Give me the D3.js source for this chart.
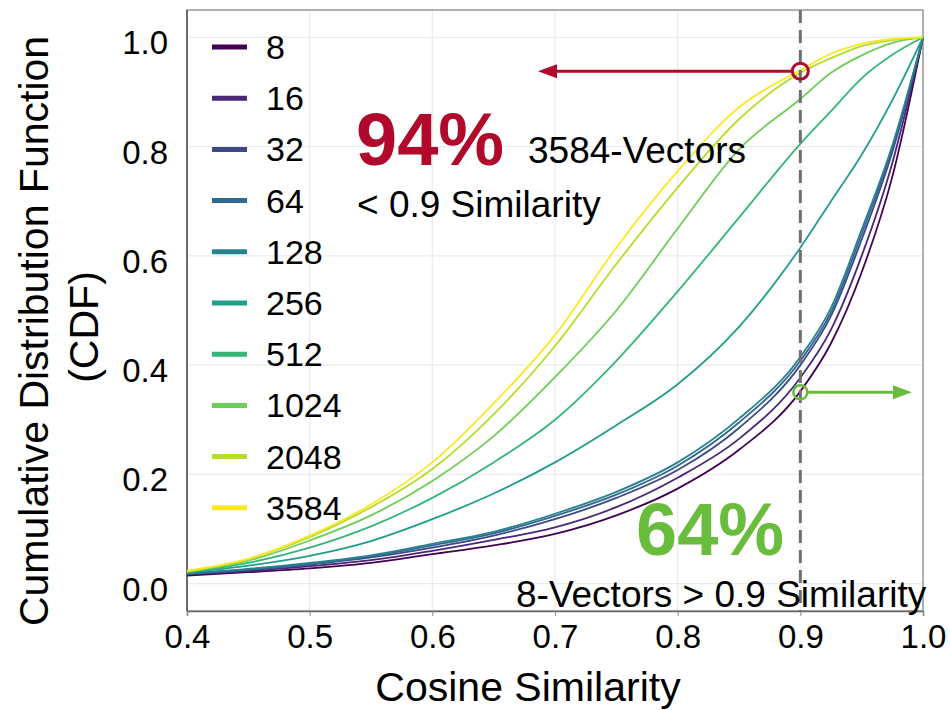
<!DOCTYPE html>
<meta charset="utf-8">
<script src="https://d3js.org/d3.v7.min.js"></script>
<style>
  body { margin: 0; background: #fff; }
  text { font-family: "Liberation Sans", Arial, Helvetica, sans-serif; }
</style>
<div id="my_dataviz"></div>
<script>

// cosine similarity sample points (x)
var simX = [0.4, 0.45, 0.5, 0.55, 0.6, 0.65, 0.7, 0.75, 0.8, 0.85, 0.9, 0.925, 0.95, 0.975, 1.0];

// CDF, one array per vector count
var cdf8    = [0.015, 0.021, 0.028, 0.038, 0.054, 0.070, 0.091, 0.125, 0.174, 0.245, 0.352, 0.440, 0.570, 0.745, 1.0];
var cdf16   = [0.017, 0.023, 0.032, 0.043, 0.060, 0.080, 0.103, 0.140, 0.194, 0.265, 0.377, 0.465, 0.600, 0.770, 1.0];
var cdf32   = [0.018, 0.025, 0.035, 0.048, 0.066, 0.088, 0.118, 0.157, 0.208, 0.285, 0.400, 0.490, 0.630, 0.790, 1.0];
var cdf64   = [0.018, 0.026, 0.036, 0.050, 0.070, 0.092, 0.124, 0.163, 0.216, 0.295, 0.408, 0.497, 0.640, 0.797, 1.0];
var cdf128  = [0.019, 0.027, 0.038, 0.052, 0.073, 0.095, 0.128, 0.168, 0.222, 0.302, 0.415, 0.505, 0.648, 0.802, 1.0];
var cdf256  = [0.020, 0.033, 0.051, 0.078, 0.118, 0.165, 0.222, 0.290, 0.365, 0.470, 0.615, 0.700, 0.785, 0.885, 1.0];
var cdf512  = [0.021, 0.038, 0.066, 0.105, 0.157, 0.222, 0.300, 0.408, 0.535, 0.670, 0.805, 0.865, 0.925, 0.968, 1.0];
var cdf1024 = [0.022, 0.042, 0.079, 0.125, 0.188, 0.270, 0.378, 0.500, 0.650, 0.795, 0.887, 0.935, 0.967, 0.990, 1.0];
var cdf2048 = [0.022, 0.045, 0.085, 0.140, 0.210, 0.310, 0.435, 0.585, 0.725, 0.850, 0.935, 0.962, 0.984, 0.995, 1.0];
var cdf3584 = [0.024, 0.046, 0.088, 0.145, 0.222, 0.330, 0.455, 0.615, 0.755, 0.872, 0.940, 0.970, 0.988, 0.997, 1.0];

var vectorCounts = ["8", "16", "32", "64", "128", "256", "512", "1024", "2048", "3584"];
var allCdfs = [cdf8, cdf16, cdf32, cdf64, cdf128, cdf256, cdf512, cdf1024, cdf2048, cdf3584];

var xTicks = [0.4, 0.5, 0.6, 0.7, 0.8, 0.9, 1.0];
var yTicks = [0.0, 0.2, 0.4, 0.6, 0.8, 1.0];

// annotation points (x, cdf)
var markHigh = [0.9, 0.938];
var markLow = [0.9, 0.352];

var red = "#b0092b", green = "#6abd3c";

var svg = d3.select("#my_dataviz")
  .append("svg")
    .attr("width", 950)
    .attr("height", 710);

var x = d3.scaleLinear().domain([0.4, 1.0]).range([187, 923]);
var y = d3.scaleLinear().domain([-0.05, 1.05]).range([611, 10]);

// grid
svg.append("g").selectAll("line")
  .data(xTicks).enter().append("line")
    .attr("x1", d => x(d)).attr("x2", d => x(d))
    .attr("y1", y.range()[1]).attr("y2", y.range()[0])
    .attr("stroke", "#ebebeb").attr("stroke-width", 1.2);
svg.append("g").selectAll("line")
  .data(yTicks).enter().append("line")
    .attr("x1", x.range()[0]).attr("x2", x.range()[1])
    .attr("y1", d => y(d)).attr("y2", d => y(d))
    .attr("stroke", "#ebebeb").attr("stroke-width", 1.2);

// frame
svg.append("rect")
  .attr("x", 187).attr("y", 10).attr("width", 736).attr("height", 601)
  .attr("fill", "none").attr("stroke", "#999").attr("stroke-width", 1.5);
svg.append("line").attr("x1", 187).attr("x2", 187).attr("y1", 10).attr("y2", 611)
  .attr("stroke", "#555").attr("stroke-width", 1.5);

// axes
var xAxis = svg.append("g")
  .attr("transform", "translate(0,611)")
  .call(d3.axisBottom(x).tickValues(xTicks).tickFormat(d3.format(".1f")).tickSize(5).tickPadding(9));
xAxis.select(".domain").attr("stroke", "#666").attr("stroke-width", 1.5);
xAxis.selectAll(".tick line").attr("stroke", "#888");
xAxis.selectAll("text").style("font-size", "33px").attr("fill", "#000");

var yAxis = svg.append("g")
  .attr("transform", "translate(187,0)")
  .call(d3.axisLeft(y).tickValues(yTicks).tickFormat(d3.format(".1f")).tickSize(0).tickPadding(19));
yAxis.select(".domain").remove();
yAxis.selectAll("text").style("font-size", "33px").attr("fill", "#000").attr("dy", "0.5em");

// axis titles
svg.append("text")
  .attr("x", 528).attr("y", 701)
  .attr("text-anchor", "middle")
  .style("font-size", "41px")
  .text("Cosine Similarity");

svg.append("text")
  .attr("transform", "translate(48,331) rotate(-90)")
  .attr("text-anchor", "middle")
  .style("font-size", "41px")
  .text("Cumulative Distribution Function");
svg.append("text")
  .attr("transform", "translate(98,327) rotate(-90)")
  .attr("text-anchor", "middle")
  .style("font-size", "41px")
  .text("(CDF)");

// colors
var myColor = d3.scaleOrdinal()
  .domain(vectorCounts)
  .range(vectorCounts.map((d, i) => d3.interpolateViridis(i / 9)));

// curves
var line = d3.line()
  .x((d, i) => x(simX[i]))
  .y(d => y(d))
  .curve(d3.curveMonotoneX);

svg.append("g").selectAll("path")
  .data(allCdfs).enter().append("path")
    .attr("d", d => line(d))
    .attr("fill", "none")
    .attr("stroke", (d, i) => myColor(vectorCounts[i]))
    .attr("stroke-width", 1.8);

// dashed line at 0.9
svg.append("line")
  .attr("x1", x(0.9)).attr("x2", x(0.9))
  .attr("y1", 10).attr("y2", 611)
  .attr("stroke", "#707070").attr("stroke-width", 3)
  .attr("stroke-dasharray", "13,7");

// legend
var legend = svg.append("g").selectAll("g")
  .data(vectorCounts).enter().append("g")
    .attr("transform", (d, i) => "translate(0," + (47 + i * 51.2) + ")");
legend.append("line")
  .attr("x1", 212).attr("x2", 247).attr("y1", 0).attr("y2", 0)
  .attr("stroke", d => myColor(d)).attr("stroke-width", 5);
legend.append("text")
  .attr("x", 266).attr("y", 12)
  .style("font-size", "34px")
  .text(d => d);

// red annotation
var arrowLeft = 538;
svg.append("line")
  .attr("x1", x(markHigh[0]) - 9).attr("x2", arrowLeft + 14)
  .attr("y1", y(markHigh[1])).attr("y2", y(markHigh[1]))
  .attr("stroke", red).attr("stroke-width", 3);
svg.append("path")
  .attr("d", "M" + arrowLeft + "," + y(markHigh[1]) + " l19,-7 l0,14 z")
  .attr("fill", red);
svg.append("circle")
  .attr("cx", x(markHigh[0])).attr("cy", y(markHigh[1])).attr("r", 8)
  .attr("fill", "none").attr("stroke", red).attr("stroke-width", 3);

svg.append("text").attr("x", 356).attr("y", 165)
  .style("font-size", "74px").style("font-weight", "bold").attr("fill", red)
  .text("94%");
svg.append("text").attr("x", 528).attr("y", 163)
  .style("font-size", "37px")
  .text("3584-Vectors");
svg.append("text").attr("x", 357).attr("y", 217)
  .style("font-size", "37px")
  .text("< 0.9 Similarity");

// green annotation
var arrowRight = 912;
svg.append("line")
  .attr("x1", x(markLow[0]) + 7).attr("x2", arrowRight - 14)
  .attr("y1", y(markLow[1]) + 1).attr("y2", y(markLow[1]) + 1)
  .attr("stroke", green).attr("stroke-width", 3);
svg.append("path")
  .attr("d", "M" + arrowRight + "," + (y(markLow[1]) + 1) + " l-19,-7 l0,14 z")
  .attr("fill", green);
svg.append("circle")
  .attr("cx", x(markLow[0])).attr("cy", y(markLow[1]) + 1).attr("r", 7)
  .attr("fill", "none").attr("stroke", green).attr("stroke-width", 2.5);

svg.append("text").attr("x", 636).attr("y", 555)
  .style("font-size", "74px").style("font-weight", "bold").attr("fill", green)
  .text("64%");
svg.append("text").attr("x", 516).attr("y", 607)
  .style("font-size", "37px")
  .text("8-Vectors > 0.9 Similarity");

</script>
